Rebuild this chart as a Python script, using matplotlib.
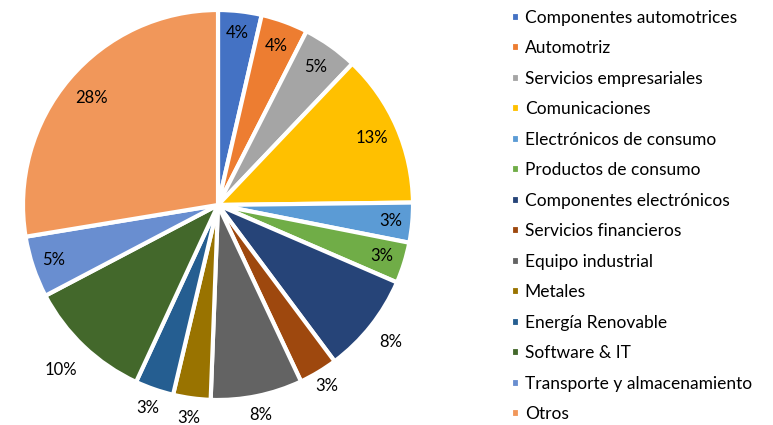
import numpy as np
import matplotlib.pyplot as plt

plt.rcParams['font.family'] = ['Lato', 'DejaVu Sans']

sectores = ['Componentes automotrices', 'Automotriz', 'Servicios empresariales',
            'Comunicaciones', 'Electrónicos de consumo', 'Productos de consumo',
            'Componentes electrónicos', 'Servicios financieros', 'Equipo industrial',
            'Metales', 'Energía Renovable', 'Software & IT',
            'Transporte y almacenamiento', 'Otros']
porcentajes = [3.6, 3.9, 4.6, 12.7, 3.3, 3.4, 8.3, 3.2, 7.6, 3.1, 3.2, 10.4, 5.1, 27.6]

colores = ['#4472C4', '#ED7D31', '#A5A5A5', '#FFC000', '#5B9BD5', '#70AD47',
           '#264478', '#9E480E', '#636363', '#997300', '#255E91', '#43682B',
           '#698ED0', '#F1975A']

# distancia radial de cada etiqueta (inside / outside as in Excel best fit)
dist_etiqueta = [0.89, 0.87, 0.87, 0.86, 0.89, 0.88, 1.13, 1.08, 1.10, 1.10, 1.10, 1.17, 0.89, 0.85]

W, H = 773, 425
fig = plt.figure(figsize=(W / 100, H / 100), dpi=100)
cx, cy, r = 218, 205, 195
ax = fig.add_axes([(cx - r) / W, (H - cy - r) / H, 2 * r / W, 2 * r / H])

wedges, _ = ax.pie(porcentajes, colors=colores, startangle=90, counterclock=False,
                   radius=1, wedgeprops=dict(edgecolor='white', linewidth=3))
ax.set_xlim(-1, 1)
ax.set_ylim(-1, 1)
ax.set_aspect('equal')
ax.axis('off')

for w, v, d in zip(wedges, porcentajes, dist_etiqueta):
    ang = np.deg2rad((w.theta1 + w.theta2) / 2)
    ax.text(d * np.cos(ang), d * np.sin(ang), '%.0f%%' % v, ha='center', va='center',
            fontsize=12, color='black', clip_on=False)

fig.legend(wedges, sectores, loc='upper left', bbox_to_anchor=(504 / W, 1 - 3 / H),
           frameon=False, fontsize=12.5, handlelength=0.5, handleheight=0.5,
           handletextpad=0.3, labelspacing=0.835, borderaxespad=0, labelcolor='black')

fig.savefig('out.png', dpi=100)
